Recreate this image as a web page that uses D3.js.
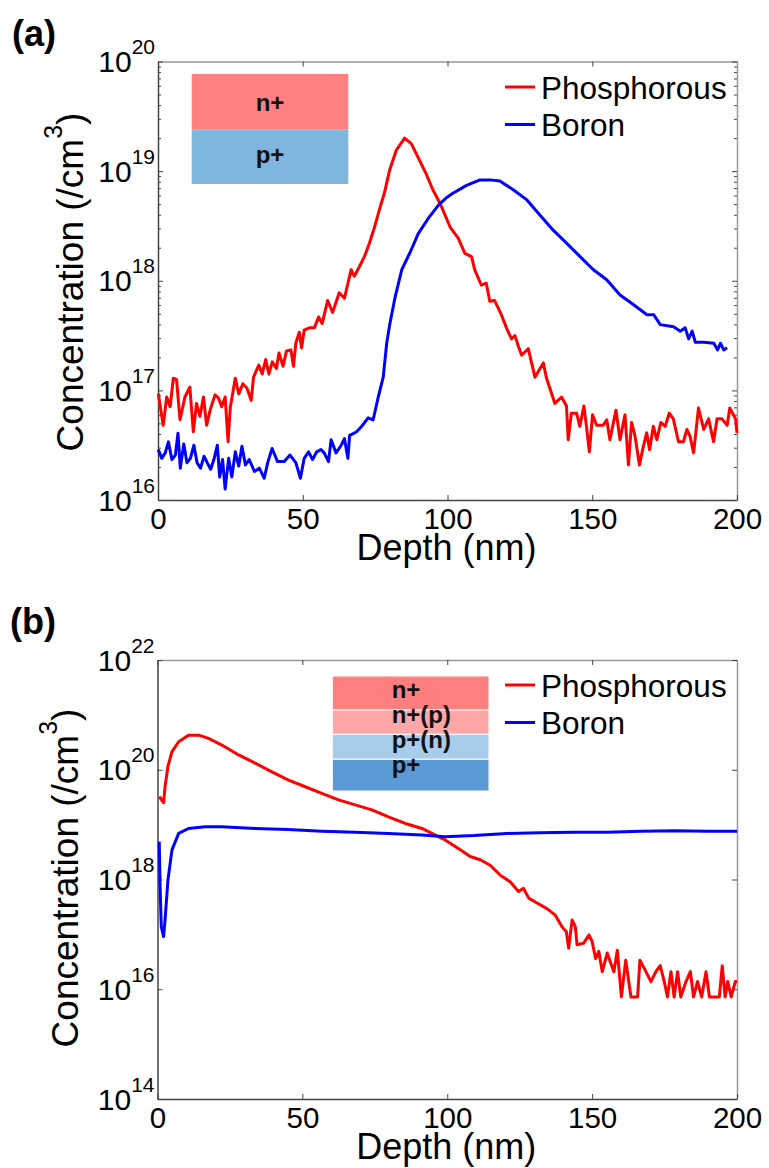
<!DOCTYPE html>
<html>
<head>
<meta charset="utf-8">
<script src="https://d3js.org/d3.v7.min.js"></script>
<style>
body{ margin:0; background:#fff; }
svg{ display:block; font-family:"Liberation Sans", Arial, sans-serif; }
</style>
</head>
<body>
<svg id="chart" width="769" height="1168"></svg>
<script>
/*
 SIMS depth profiles, (a) as implanted stack and (b) after anneal.
 Values: [depth nm, concentration /cm3]
*/
var depthTicks = [0, 50, 100, 150, 200];
var decadesA = [16, 17, 18, 19, 20];
var decadesB = [14, 16, 18, 20, 22];
var seriesNames = ["Phosphorous", "Boron"];
var layersA = ["n+", "p+"];
var layersB = ["n+", "n+(p)", "p+(n)", "p+"];

var phosA = [
    [0.1, 9.3e16], [1.8, 4.8e16], [3.0, 8.7e16], [4.2, 7.1e16], [5.3, 1.29e17], [6.4, 1.26e17],
    [7.6, 5.4e16], [9.3, 8.7e16], [11.0, 1.07e17], [12.2, 4.2e16], [13.3, 7.6e16], [14.5, 5.8e16],
    [15.7, 8.7e16], [16.8, 4.8e16], [18.0, 6.6e16], [19.7, 9.1e16], [20.9, 8.5e16], [22.0, 7.1e16],
    [23.2, 8.7e16], [24.2, 3.4e16], [25.0, 7.1e16], [26.7, 1.29e17], [27.9, 9.3e16], [29.3, 1.15e17],
    [30.7, 1.05e17], [32.2, 8.1e16], [33.0, 1.32e17], [34.8, 1.70e17], [36.0, 1.41e17], [37.2, 1.91e17],
    [38.3, 1.41e17], [39.5, 1.82e17], [40.9, 1.58e17], [41.8, 2.19e17], [43.2, 1.66e17], [44.4, 2.29e17],
    [45.9, 2.34e17], [46.8, 1.66e17], [47.6, 2.69e17], [48.8, 3.39e17], [49.6, 2.45e17], [50.5, 3.55e17],
    [52.3, 3.72e17], [54.0, 3.72e17], [55.5, 4.68e17], [56.7, 4.07e17], [58.6, 6.61e17], [60.3, 5.13e17],
    [62.6, 7.76e17], [64.4, 6.92e17], [66.7, 1.26e18], [67.8, 1.10e18], [69.6, 1.35e18], [71.3, 1.66e18],
    [73.0, 2.19e18], [74.8, 3.09e18], [76.5, 4.47e18], [78.2, 6.31e18], [80.0, 1.02e19], [82.3, 1.55e19],
    [85.2, 2.0e19], [87.5, 1.78e19], [90.3, 1.26e19], [92.6, 9.5e18], [94.9, 6.8e18], [97.4, 5.1e18],
    [100.9, 3.09e18], [103.7, 2.45e18], [106.0, 1.78e18], [108.3, 1.66e18], [109.4, 1.26e18], [111.7, 9.1e17],
    [113.4, 9.5e17], [114.6, 6.5e17], [116.3, 6.6e17], [118.6, 4.9e17], [120.4, 3.7e17], [122.1, 2.95e17],
    [123.3, 3.16e17], [124.4, 2.57e17], [125.6, 2.09e17], [127.9, 2.40e17], [130.2, 1.32e17], [133.1, 1.78e17],
    [134.2, 1.29e17], [137.1, 7.6e16], [139.4, 8.7e16], [141.1, 7.2e16], [141.7, 3.55e16], [142.8, 6.2e16],
    [144.6, 6.2e16], [145.7, 4.7e16], [147.1, 7.2e16], [148.0, 4.7e16], [149.0, 2.75e16], [150.1, 6.0e16],
    [151.5, 4.8e16], [153.8, 4.8e16], [155.0, 5.4e16], [156.1, 3.55e16], [158.2, 6.6e16], [159.6, 3.55e16],
    [161.3, 6.0e16], [162.5, 2.09e16], [163.6, 5.1e16], [164.8, 3.8e16], [166.3, 2.09e16], [167.4, 2.88e16],
    [168.8, 4.1e16], [169.8, 2.88e16], [171.1, 4.7e16], [172.3, 3.55e16], [173.7, 5.1e16], [175.2, 4.7e16],
    [176.6, 6.2e16], [178.0, 5.5e16], [179.8, 3.4e16], [181.5, 3.4e16], [182.7, 4.4e16], [183.8, 3.8e16],
    [185.0, 2.69e16], [186.7, 6.9e16], [188.5, 4.4e16], [190.2, 5.5e16], [191.9, 3.4e16], [193.1, 5.5e16],
    [194.8, 5.5e16], [196.6, 4.8e16], [197.5, 6.9e16], [199.5, 5.5e16], [200.0, 4.1e16]
];

var boronA = [
    [0.1, 2.88e16], [1.3, 2.40e16], [2.5, 2.69e16], [3.6, 3.39e16], [4.8, 2.34e16], [6.0, 2.57e16],
    [6.9, 4.07e16], [7.7, 1.95e16], [8.9, 3.24e16], [10.0, 2.19e16], [11.2, 2.40e16], [12.4, 3.16e16],
    [13.5, 2.19e16], [14.7, 1.95e16], [15.9, 2.51e16], [17.0, 2.19e16], [18.2, 1.91e16], [19.3, 2.34e16],
    [20.5, 3.16e16], [21.3, 1.62e16], [22.3, 2.34e16], [23.2, 1.26e16], [24.4, 2.40e16], [25.5, 1.62e16],
    [26.7, 2.75e16], [27.9, 2.04e16], [29.0, 3.09e16], [30.2, 2.09e16], [31.5, 2.34e16], [33.3, 1.82e16],
    [35.0, 1.95e16], [36.7, 1.58e16], [37.9, 2.19e16], [39.4, 2.95e16], [41.3, 2.24e16], [43.6, 2.24e16],
    [45.6, 2.57e16], [47.6, 2.19e16], [49.2, 1.58e16], [50.5, 2.40e16], [52.0, 2.75e16], [53.4, 2.34e16],
    [54.8, 2.75e16], [56.3, 2.88e16], [57.4, 2.69e16], [58.9, 2.24e16], [59.8, 3.55e16], [61.5, 2.69e16],
    [63.3, 3.16e16], [64.4, 3.63e16], [65.6, 2.40e16], [66.2, 3.89e16], [68.5, 4.17e16], [70.3, 4.68e16],
    [72.6, 5.62e16], [74.3, 5.37e16], [76.1, 8.71e16], [77.8, 1.32e17], [79.0, 2.69e17], [80.1, 4.07e17],
    [81.9, 7.08e17], [84.2, 1.26e18], [87.1, 1.82e18], [89.9, 2.69e18], [93.4, 3.72e18], [96.9, 4.90e18],
    [99.7, 5.75e18], [102.0, 6.31e18], [106.6, 7.41e18], [111.2, 8.32e18], [114.7, 8.32e18], [118.1, 8.13e18],
    [122.7, 6.76e18], [127.3, 5.50e18], [131.9, 3.98e18], [136.6, 2.88e18], [141.2, 2.19e18], [145.8, 1.66e18],
    [150.4, 1.26e18], [155.0, 1.02e18], [159.6, 7.41e17], [164.3, 6.03e17], [168.9, 4.90e17], [171.2, 4.90e17],
    [173.5, 3.98e17], [178.1, 3.80e17], [180.4, 3.47e17], [182.1, 3.72e17], [183.3, 2.95e17], [184.5, 3.47e17],
    [185.6, 2.75e17], [188.5, 2.75e17], [192.0, 2.69e17], [193.3, 2.34e17], [194.3, 2.69e17], [195.4, 2.34e17],
    [196.6, 2.45e17]
];

var phosB = [
    [0.6, 3.24e19], [2.1, 2.51e19], [2.6, 4.90e19], [3.6, 1.15e20], [5.0, 2.14e20], [7.3, 3.24e20],
    [10.7, 4.27e20], [14.2, 4.27e20], [17.6, 3.72e20], [22.2, 2.82e20], [28.0, 1.86e20], [33.7, 1.32e20],
    [39.5, 9.12e19], [45.2, 6.46e19], [51.0, 4.90e19], [56.7, 3.72e19], [62.5, 2.82e19], [68.2, 2.29e19],
    [74.0, 1.86e19], [79.7, 1.38e19], [85.5, 1.05e19], [91.3, 8.51e18], [95.9, 6.46e18], [99.3, 5.25e18],
    [101.0, 4.57e18], [104.5, 3.47e18], [107.9, 2.63e18], [111.4, 2.29e18], [114.8, 1.82e18], [118.3, 1.20e18],
    [121.7, 9.12e17], [124.6, 6.03e17], [126.3, 6.92e17], [128.1, 4.57e17], [131.0, 3.72e17], [134.4, 2.95e17],
    [137.3, 2.24e17], [139.6, 1.38e17], [141.1, 1.12e17], [141.9, 5.62e16], [143.1, 1.82e17], [144.2, 1.38e17],
    [144.8, 6.46e16], [147.1, 6.92e16], [148.9, 9.77e16], [150.0, 7.41e16], [151.2, 3.63e16], [152.3, 4.90e16],
    [153.5, 2.09e16], [155.2, 4.57e16], [157.5, 2.09e16], [158.7, 5.13e16], [160.1, 7.24e15], [161.6, 3.39e16],
    [163.4, 7.24e15], [165.7, 7.24e15], [166.5, 3.39e16], [168.0, 2.40e16], [170.3, 1.38e16], [172.0, 2.09e16],
    [173.5, 2.69e16], [174.9, 1.38e16], [176.0, 7.24e15], [177.2, 2.09e16], [178.3, 7.24e15], [179.5, 2.09e16],
    [180.6, 7.24e15], [182.4, 1.38e16], [183.9, 2.09e16], [185.0, 7.24e15], [186.4, 1.38e16], [187.8, 7.24e15],
    [189.3, 2.09e16], [190.5, 7.24e15], [193.9, 7.24e15], [194.9, 2.69e16], [195.9, 7.24e15], [196.8, 1.38e16],
    [198.0, 7.24e15], [199.4, 1.38e16], [200.0, 1.38e16]
];

var boronB = [
    [0.6, 4.90e18], [0.9, 7.41e17], [1.3, 1.38e17], [2.1, 9.12e16], [2.6, 1.82e17], [3.6, 9.77e17],
    [5.0, 3.47e18], [7.3, 6.92e18], [10.7, 8.51e18], [16.5, 9.12e18], [22.2, 9.12e18], [33.7, 8.51e18],
    [45.2, 8.13e18], [56.7, 7.59e18], [68.2, 7.24e18], [79.7, 6.92e18], [91.3, 6.46e18], [99.3, 6.03e18],
    [109.1, 6.31e18], [120.6, 6.92e18], [132.1, 7.08e18], [143.6, 7.24e18], [155.2, 7.24e18], [166.7, 7.59e18],
    [178.3, 7.76e18], [189.8, 7.59e18], [200.0, 7.59e18]
];

var svg = d3.select("#chart");
var FRAME_DARK = "#444";
var FRAME_LIGHT = "#999";

/**
## drawPanel(opt)
Draws one log-scale profile panel: frame, ticks, labels, both series and legend.
**/
function drawPanel(opt){
    var x = d3.scaleLinear().domain([0, 200]).range([opt.left, opt.right]);
    var lo = opt.decades[0], hi = opt.decades[opt.decades.length - 1];
    var y = d3.scaleLog().domain([Math.pow(10, lo), Math.pow(10, hi)]).range([opt.bottom, opt.top]);
    var g = svg.append("g");
    var major = opt.decades.map(function(e){ return Math.pow(10, e); });

    // minor ticks (panel a only)
    if(opt.minor){
        var minor = [];
        for(var e = lo; e < hi; e++){
            for(var m = 2; m <= 9; m++){ minor.push(m * Math.pow(10, e)); }
        }
        g.append("g").attr("transform", "translate(" + opt.left + ",0)")
            .call(d3.axisLeft(y).tickValues(minor).tickSize(-3).tickSizeOuter(0).tickFormat(""))
            .call(styleAxis, FRAME_DARK, true);
        g.append("g").attr("transform", "translate(" + opt.right + ",0)")
            .call(d3.axisRight(y).tickValues(minor).tickSize(-3).tickSizeOuter(0).tickFormat(""))
            .call(styleAxis, FRAME_DARK, true);
    }

    g.append("g").attr("transform", "translate(0," + opt.top + ")")
        .call(d3.axisTop(x).tickValues(depthTicks).tickSize(-5).tickSizeOuter(0).tickFormat(""))
        .call(styleAxis, FRAME_LIGHT);
    g.append("g").attr("transform", "translate(" + opt.right + ",0)")
        .call(d3.axisRight(y).tickValues(major).tickSize(-5).tickSizeOuter(0).tickFormat(""))
        .call(styleAxis, FRAME_LIGHT);

    var xb = g.append("g").attr("transform", "translate(0," + opt.bottom + ")")
        .call(d3.axisBottom(x).tickValues(depthTicks).tickSize(-5).tickSizeOuter(0).tickPadding(8))
        .call(styleAxis, FRAME_DARK);
    xb.selectAll(".tick text").attr("font-size", 29.5).attr("fill", "#000");

    var yl = g.append("g").attr("transform", "translate(" + opt.left + ",0)")
        .call(d3.axisLeft(y).tickValues(major).tickSize(-5).tickSizeOuter(0).tickFormat(""))
        .call(styleAxis, FRAME_DARK);
    var lab = yl.selectAll(".tick").append("text")
        .attr("x", -3).attr("y", 10)
        .attr("text-anchor", "end").attr("fill", "#000");
    lab.append("tspan").attr("font-size", 30).text("10");
    lab.append("tspan").attr("font-size", 21).attr("dy", -18)
        .text(function(d){ return Math.round(Math.log10(d)); });

    // axis titles
    svg.append("text")
        .attr("x", (opt.left + opt.right) / 2 - 1).attr("y", opt.bottom + 60)
        .attr("text-anchor", "middle").attr("font-size", 36)
        .text("Depth (nm)");
    var yt = svg.append("text")
        .attr("transform", "translate(" + opt.ylabelX + "," + opt.ylabelY + ") rotate(-90)")
        .attr("text-anchor", "middle").attr("font-size", 37);
    yt.append("tspan").text("Concentration (/cm");
    yt.append("tspan").attr("font-size", 25).attr("dy", -21).text("3");
    yt.append("tspan").attr("dy", 21).text(")");

    svg.append("text")
        .attr("x", opt.tagX).attr("y", opt.tagY)
        .attr("font-size", 36).attr("font-weight", "bold")
        .text(opt.tag);

    // profiles
    var line = d3.line()
        .x(function(d){ return x(d[0]); })
        .y(function(d){ return y(d[1]); });
    var colors = ["#ff0000", "#0000ff"];
    [opt.phos, opt.boron].forEach(function(s, i){
        g.append("path").datum(s)
            .attr("d", line)
            .attr("fill", "none")
            .attr("stroke", colors[i])
            .attr("stroke-width", 3)
            .attr("stroke-linejoin", "round");
    });

    // legend
    seriesNames.forEach(function(n, i){
        var ly = opt.legendY + i * 37.5;
        g.append("line")
            .attr("x1", 505).attr("x2", 535).attr("y1", ly).attr("y2", ly)
            .attr("stroke", colors[i]).attr("stroke-width", 3);
        g.append("text")
            .attr("x", 541).attr("y", ly + 11.5)
            .attr("font-size", 31.5).attr("fill", "#000")
            .text(n);
    });
}

function styleAxis(sel, color, noDomain){
    sel.attr("font-family", null).attr("font-size", null);
    sel.select(".domain")
        .attr("stroke", color)
        .attr("stroke-width", 1.5)
        .style("display", noDomain ? "none" : null);
    sel.selectAll(".tick line").attr("stroke", FRAME_DARK).attr("stroke-width", 1);
}

/**
## drawStack(names, colors, rows, opt)
Draws the coloured layer sketch inside a panel.
**/
function drawStack(names, colors, rows, opt){
    var g = svg.append("g");
    names.forEach(function(n, i){
        g.append("rect")
            .attr("x", opt.x).attr("y", rows[i])
            .attr("width", opt.w).attr("height", rows[i + 1] - rows[i])
            .attr("fill", colors[i])
            .attr("stroke", opt.sep ? "#fff" : "none").attr("stroke-width", 1);
        g.append("text")
            .attr("x", opt.anchor == "middle" ? opt.x + opt.w / 2 : opt.textX)
            .attr("y", opt.baselines[i])
            .attr("text-anchor", opt.anchor)
            .attr("font-size", 24).attr("font-weight", "bold").attr("fill", "#111")
            .text(n);
    });
}

drawPanel({
    left: 158, right: 737, top: 61.5, bottom: 500,
    decades: decadesA, minor: true,
    phos: phosA, boron: boronA,
    legendY: 87,
    ylabelX: 83, ylabelY: 282,
    tag: "(a)", tagX: 12, tagY: 46
});
drawStack(layersA, ["#ff8080", "#7fb6dd"], [74, 129.3, 184], {
    x: 191.7, w: 156.6, anchor: "middle", baselines: [111, 163]
});

drawPanel({
    left: 157.5, right: 737, top: 660, bottom: 1099,
    decades: decadesB, minor: false,
    phos: phosB, boron: boronB,
    legendY: 685,
    ylabelX: 78, ylabelY: 878,
    tag: "(b)", tagX: 10, tagY: 634
});
drawStack(layersB, ["#ff7f7f", "#ffa6a6", "#a8cdea", "#5b9bd5"], [676, 710, 734.3, 759.3, 791], {
    x: 332.3, w: 156.7, anchor: "start", textX: 391.7, sep: true,
    baselines: [698, 723, 748, 773]
});
</script>
</body>
</html>
